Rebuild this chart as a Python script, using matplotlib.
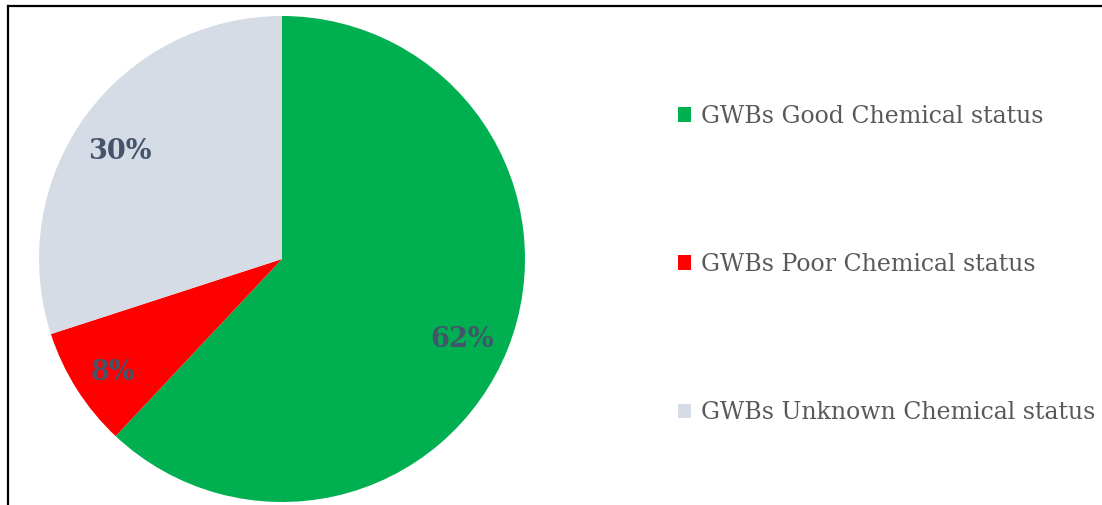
import matplotlib
matplotlib.use('Agg')
import matplotlib.pyplot as plt
from matplotlib.lines import Line2D

# groundwater bodies by chemical status
labels = ['GWBs Good Chemical status', 'GWBs Poor Chemical status',
          'GWBs Unknown Chemical status']
shares = [62, 8, 30]
colors = ['#00B050', '#FF0000', '#D6DCE5']

W, H = 1102, 505
fig = plt.figure(figsize=(W / 100, H / 100), dpi=100)

# pie axes: centre (282, 259) px, radius 243 px
cx, cy, r = 282, 259, 243
ax = fig.add_axes([(cx - r) / W, (H - cy - r) / H, 2 * r / W, 2 * r / H])
wedges, _, autotexts = ax.pie(
    shares, colors=colors, startangle=90, counterclock=False,
    autopct='%1.0f%%', pctdistance=0.81, radius=1,
    wedgeprops=dict(linewidth=0),
    textprops=dict(family='DejaVu Serif', fontsize=19.5, fontweight='bold',
                   color='#44546A'))
# percent labels sit a little below the wedge centroid
for t in autotexts:
    x, y = t.get_position()
    t.set_position((x - 0.012, y - 0.035))
ax.set_xlim(-1, 1)
ax.set_ylim(-1, 1)
ax.set_aspect('equal')
ax.axis('off')

leg = fig.legend(wedges, labels, loc='upper left',
                 bbox_to_anchor=(666 / W, 1 - 93 / H), frameon=False,
                 handlelength=0.55, handleheight=0.55, handletextpad=0.45,
                 labelspacing=5.3, borderpad=0,
                 prop=dict(family='DejaVu Serif', size=17))
for t in leg.get_texts():
    t.set_color('#595959')

# outer frame, only top and left edges fall inside the image
x0, y0 = 7.5 / W, 1 - 6 / H
fig.add_artist(Line2D([x0, x0], [0, y0], color='black', lw=1.6,
                      transform=fig.transFigure))
fig.add_artist(Line2D([x0, 1], [y0, y0], color='black', lw=1.6,
                      transform=fig.transFigure))

fig.savefig('out.png', dpi=100, facecolor='white')
